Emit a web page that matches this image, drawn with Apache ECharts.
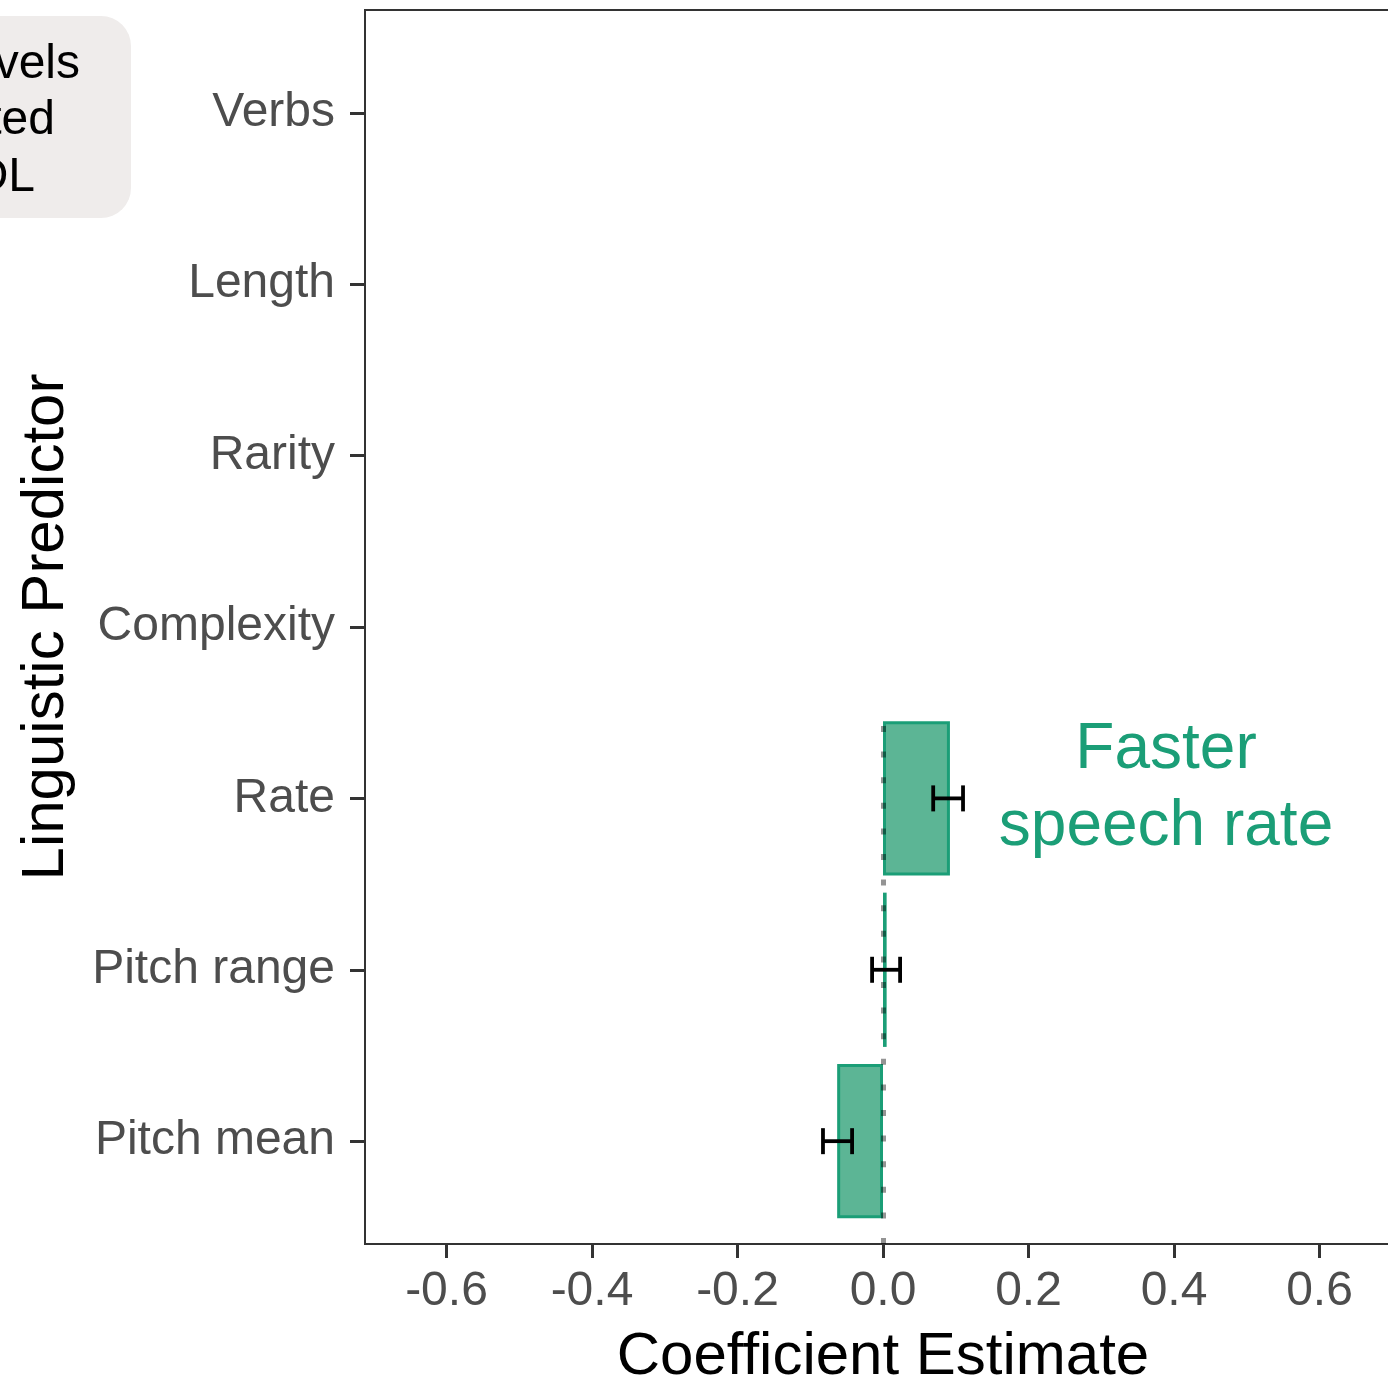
<!DOCTYPE html>
<html>
<head>
<meta charset="utf-8">
<script src="https://cdn.jsdelivr.net/npm/echarts@6/dist/echarts.min.js"></script>
<style>
  html, body { margin: 0; padding: 0; background: #ffffff; }
  #chart { width: 1388px; height: 1382px; }
</style>
</head>
<body>
<div id="chart"></div>
<script>
// ---- data (bottom to top) ----
const categories = ['Pitch mean', 'Pitch range', 'Rate', 'Complexity', 'Rarity', 'Length', 'Verbs'];
const estimates  = [-0.063, 0.005, 0.092, null, null, null, null];
const ciLow      = [-0.0825, -0.015, 0.069, null, null, null, null];
const ciHigh     = [-0.0425, 0.0235, 0.110, null, null, null, null];
const xTicks     = [-0.6, -0.4, -0.2, 0.0, 0.2, 0.4, 0.6];
const xMin = -0.712, xMax = 0.712;
const annotationLines = ['Faster', 'speech rate'];
const legendLines = ['Levels', 'Isolated', 'CDL'];

const FONT = "'Liberation Sans', Arial, Helvetica, sans-serif";
const GREEN = '#1b9e77';

const errData = [];
categories.forEach((c, i) => {
  if (ciLow[i] != null) errData.push([ciLow[i], ciHigh[i], i]);
});

// zero reference line spans from the bottom of the panel up to the top of the highest bar
const EXPAND = 0.6, BAR_FRAC = 0.9;
let lastBar = 0;
estimates.forEach((v, i) => { if (v != null) lastBar = i; });
const zeroTop = (EXPAND + lastBar + BAR_FRAC / 2) / (categories.length - 1 + 2 * EXPAND);

const chart = echarts.init(document.getElementById('chart'), null, { renderer: 'canvas' });

const unit = 1234 / (categories.length - 1 + 2 * EXPAND);

const option = {
  backgroundColor: '#ffffff',
  animation: false,
  textStyle: { fontFamily: FONT },
  grid: [
    { // frame grid
      left: 365, top: 10, width: 1036, height: 1234,
      outerBoundsMode: 'none', containLabel: false,
      show: true, borderColor: '#333333', borderWidth: 2, backgroundColor: 'transparent'
    },
    { // data grid
      left: 365, top: 10 + (EXPAND - 0.5) * unit, width: 1036, height: categories.length * unit,
      outerBoundsMode: 'none', containLabel: false
    }
  ],
  xAxis: [
    {
      gridIndex: 0, type: 'value', min: xMin, max: xMax,
      axisLine: { show: true, onZero: false, lineStyle: { color: '#333333', width: 2 } },
      axisTick: { show: true, length: 14, lineStyle: { color: '#333333', width: 3 }, customValues: xTicks },
      axisLabel: {
        show: true, customValues: xTicks, margin: 24,
        fontSize: 48, color: '#4d4d4d', fontFamily: FONT,
        formatter: v => v.toFixed(1)
      },
      splitLine: { show: false },
      name: 'Coefficient Estimate', nameLocation: 'middle', nameGap: 83,
      nameTextStyle: { fontSize: 60, color: '#000000', fontFamily: FONT }
    },
    {
      gridIndex: 1, type: 'value', min: xMin, max: xMax, show: false
    }
  ],
  yAxis: [
    {
      gridIndex: 0, type: 'value', min: 0, max: 1,
      axisLine: { show: false, onZero: false }, axisTick: { show: false }, axisLabel: { show: false }, splitLine: { show: false },
      name: 'Linguistic Predictor', nameLocation: 'middle', nameGap: 289, nameRotate: 90,
      nameTextStyle: { fontSize: 60, color: '#000000', fontFamily: FONT }
    },
    {
      gridIndex: 1, type: 'category', data: categories, boundaryGap: true,
      axisLine: { show: false, onZero: false },
      axisTick: { show: true, alignWithLabel: true, length: 15, lineStyle: { color: '#333333', width: 3 } },
      axisLabel: { margin: 30, fontSize: 48, color: '#4d4d4d', fontFamily: FONT },
      splitLine: { show: false }
    }
  ],
  series: [
    {
      type: 'bar',
      xAxisIndex: 1, yAxisIndex: 1,
      data: estimates,
      barWidth: (BAR_FRAC * 100) + '%',
      itemStyle: { color: '#5cb595', borderColor: GREEN, borderWidth: 3 },
      z: 2
    },
    {
      type: 'custom',
      xAxisIndex: 1, yAxisIndex: 1,
      data: errData,
      z: 5,
      renderItem: function (params, api) {
        const cat = api.value(2);
        const p1 = api.coord([api.value(0), cat]);
        const p2 = api.coord([api.value(1), cat]);
        const h = 13;
        const style = { stroke: '#000000', lineWidth: 3.8, fill: null };
        return {
          type: 'group',
          children: [
            { type: 'line', shape: { x1: p1[0], y1: p1[1], x2: p2[0], y2: p2[1] }, style: style },
            { type: 'line', shape: { x1: p1[0], y1: p1[1] - h, x2: p1[0], y2: p1[1] + h }, style: style },
            { type: 'line', shape: { x1: p2[0], y1: p2[1] - h, x2: p2[0], y2: p2[1] + h }, style: style }
          ]
        };
      }
    },
    {
      type: 'scatter',
      xAxisIndex: 0, yAxisIndex: 0,
      data: [],
      z: 10,
      markLine: {
        silent: true,
        symbol: ['none', 'none'],
        label: { show: false },
        lineStyle: { color: 'rgba(0,0,0,0.42)', width: 5, type: [6, 19.6] },
        data: [[{ coord: [0, 0] }, { coord: [0, zeroTop] }]]
      }
    }
  ],
  graphic: [
    {
      type: 'rect', z: 1,
      shape: { x: -60, y: 16, width: 191, height: 202, r: 30 },
      style: { fill: '#efeceb' }
    },
    { type: 'text', z: 2, x: 80, y: 65, style: { text: legendLines[0], font: '48px ' + FONT, fill: '#000', textAlign: 'right', textVerticalAlign: 'middle' } },
    { type: 'text', z: 2, x: 55, y: 121, style: { text: legendLines[1], font: '48px ' + FONT, fill: '#000', textAlign: 'right', textVerticalAlign: 'middle' } },
    { type: 'text', z: 2, x: 35, y: 178, style: { text: legendLines[2], font: '48px ' + FONT, fill: '#000', textAlign: 'right', textVerticalAlign: 'middle' } },
    {
      type: 'text', z: 20, x: 1166, y: 789,
      style: {
        text: annotationLines.join('\n'), font: '64px ' + FONT, fill: GREEN,
        textAlign: 'center', textVerticalAlign: 'middle', lineHeight: 77
      }
    }
  ]
};

chart.setOption(option);
</script>
</body>
</html>
